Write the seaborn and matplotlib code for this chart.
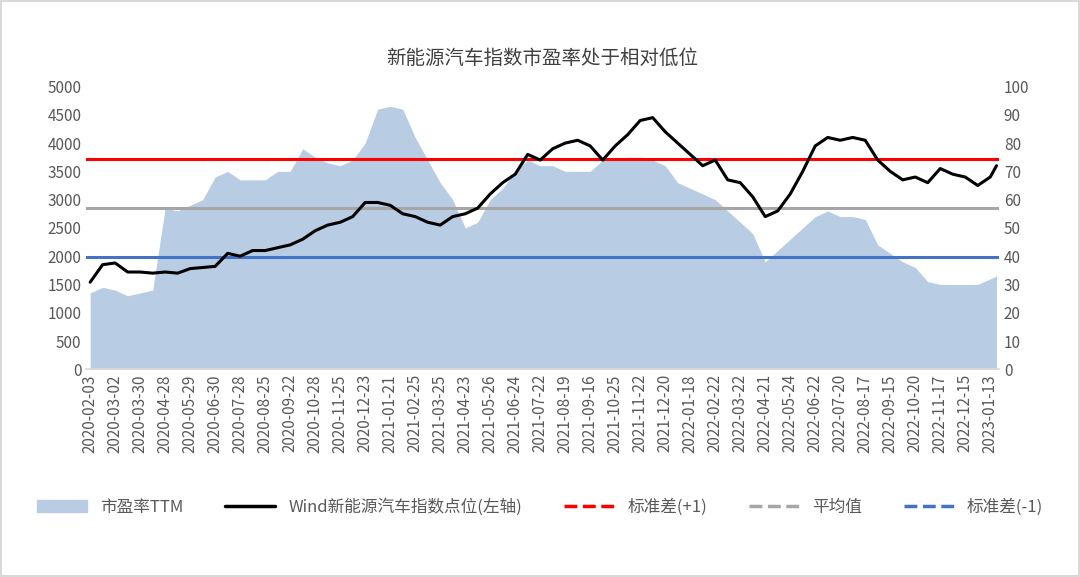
import matplotlib.pyplot as plt
import seaborn as sns
import numpy as np
import pandas as pd
from matplotlib.lines import Line2D
from matplotlib.patches import Patch

sns.set_theme(style="white")
plt.rcParams['font.family'] = ['Noto Sans CJK SC', 'DejaVu Sans']

# trading-day index sampled every 10 days
day_idx = [i * 10 for i in range(73)] + [725]

index_pts = [1540, 1850, 1880, 1720, 1720, 1700, 1720, 1700, 1780, 1800,
             1820, 2050, 2000, 2100, 2100, 2150, 2200, 2300, 2450, 2550,
             2600, 2700, 2950, 2950, 2900, 2750, 2700, 2600, 2550, 2700,
             2750, 2850, 3100, 3300, 3450, 3800, 3700, 3900, 4000, 4050,
             3950, 3700, 3950, 4150, 4400, 4450, 4200, 4000, 3800, 3600,
             3700, 3350, 3300, 3050, 2700, 2800, 3100, 3500, 3950, 4100,
             4050, 4100, 4050, 3700, 3500, 3350, 3400, 3300, 3550, 3450,
             3400, 3250, 3400, 3600]

pe_ttm = [27, 29, 28, 26, 27, 28, 57, 56, 58, 60,
          68, 70, 67, 67, 67, 70, 70, 78, 75, 73,
          72, 74, 80, 92, 93, 92, 82, 74, 66, 60,
          50, 52, 60, 64, 70, 74, 72, 72, 70, 70,
          70, 74, 74, 75, 75, 74, 72, 66, 64, 62,
          60, 56, 52, 48, 38, 42, 46, 50, 54, 56,
          54, 54, 53, 44, 41, 38, 36, 31, 30, 30,
          30, 30, 32, 33]

std_plus, pe_mean, std_minus = 74.4, 57.2, 39.8

tick_labels = ["2020-02-03", "2020-03-02", "2020-03-30", "2020-04-28", "2020-05-29",
               "2020-06-30", "2020-07-28", "2020-08-25", "2020-09-22", "2020-10-28",
               "2020-11-25", "2020-12-23", "2021-01-21", "2021-02-25", "2021-03-25",
               "2021-04-23", "2021-05-26", "2021-06-24", "2021-07-22", "2021-08-19",
               "2021-09-16", "2021-10-25", "2021-11-22", "2021-12-20", "2022-01-18",
               "2022-02-22", "2022-03-22", "2022-04-21", "2022-05-24", "2022-06-22",
               "2022-07-20", "2022-08-17", "2022-09-15", "2022-10-20", "2022-11-17",
               "2022-12-15", "2023-01-13"]

df = pd.DataFrame({"day": day_idx, "index": index_pts, "pe": pe_ttm})

fig, ax = plt.subplots(figsize=(10.8, 5.77), dpi=100)
fig.patch.set_edgecolor('#d9d9d9')
fig.patch.set_linewidth(1.5)
ax2 = ax.twinx()
ax.set_zorder(ax2.get_zorder() + 1)
ax.patch.set_visible(False)

ax2.fill_between(df["day"], df["pe"], color="#b8cce4", lw=0)
ax2.set_ylim(0, 100)
ax2.set_yticks(range(0, 101, 10))

sns.lineplot(data=df, x="day", y="index", ax=ax, color="black", lw=2.2)
ax.set_ylim(0, 5000)
ax.set_yticks(range(0, 5001, 500))
for val, c in [(std_plus, "#ff0000"), (pe_mean, "#a6a6a6"), (std_minus, "#4472c4")]:
    ax2.axhline(val, color=c, lw=2.2)

ax.set_xlim(-3, 727)
ax.set_xticks(range(0, 721, 20))
ax.set_xticklabels(tick_labels, rotation=90)
ax.set_xlabel("")
ax.set_ylabel("")
for a in (ax, ax2):
    a.tick_params(labelsize=11, colors="#595959", length=0)
    for s in a.spines.values():
        s.set_visible(False)
ax.spines['bottom'].set_visible(True)
ax.spines['bottom'].set_color('#d9d9d9')

ax.set_title("新能源汽车指数市盈率处于相对低位", fontsize=14, color="#404040", pad=16)

handles = [Patch(color="#b8cce4"),
           Line2D([], [], color="black", lw=2.5),
           Line2D([], [], color="#ff0000", lw=2.5, ls="--"),
           Line2D([], [], color="#a6a6a6", lw=2.5, ls="--"),
           Line2D([], [], color="#4472c4", lw=2.5, ls="--")]
labels = ["市盈率TTM", "Wind新能源汽车指数点位(左轴)", "标准差(+1)", "平均值", "标准差(-1)"]
fig.legend(handles, labels, loc="lower center", ncol=5, frameon=False,
           bbox_to_anchor=(0.5, 0.08), fontsize=12, labelcolor="#595959",
           columnspacing=2.5, handlelength=3)

plt.subplots_adjust(left=0.08, right=0.925, top=0.85, bottom=0.36)
plt.savefig("out.png", dpi=100)
